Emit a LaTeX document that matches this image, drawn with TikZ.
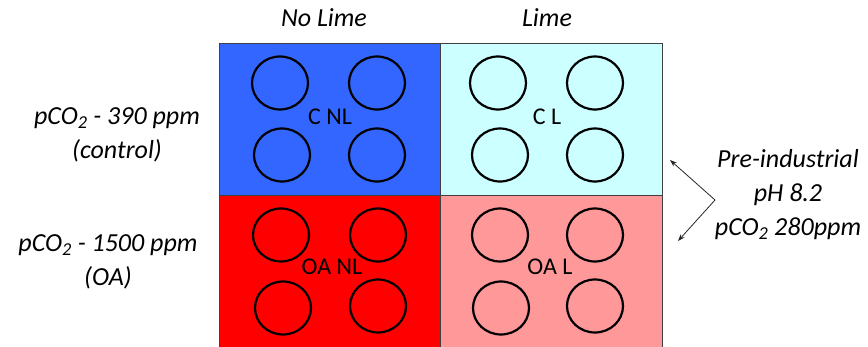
\documentclass[tikz,border=0pt]{standalone}
\usepackage{fontspec}
\setmainfont{Carlito}
\usetikzlibrary{arrows.meta}
\definecolor{qblue}{HTML}{3366FF}
\definecolor{qcyan}{HTML}{CCFFFF}
\definecolor{qred}{HTML}{FF0000}
\definecolor{qpink}{HTML}{FF9999}
\tikzset{
  quad/.style={draw=black!75, line width=0.9pt},
  well/.style={draw=black, line width=2.2pt},
  side/.style={font=\fontsize{26}{34}\selectfont\itshape, align=center, inner sep=0pt},
  lab/.style={font=\fontsize{24}{28}\selectfont, inner sep=0pt},
  ptr/.style={draw=black!85, line width=0.8pt, -{Stealth[length=7pt,width=5pt]}}
}
\begin{document}
\begin{tikzpicture}[x=1pt,y=-1pt]
\useasboundingbox (0,0) rectangle (868,347);
\begin{scope}
\clip (0,0) rectangle (868,347);
\path[quad,fill=qblue] (219,43) rectangle (440,195);
\path[quad,fill=qcyan] (440,43) rectangle (662,195);
\path[quad,fill=qred] (219,195) rectangle (440,352);
\path[quad,fill=qpink] (440,195) rectangle (662,352);
\end{scope}
% wells
\foreach \cx/\cy in {280/83,377/83,282/155,377/155,
                     498/83,595/83,500/155,595/155,
                     281/235,378/235,283/308,378/306,
                     500/235,595/235,501/308,595/306}
  \draw[well] (\cx,\cy) ellipse [x radius=28, y radius=26.5];
\node[lab] (cnl) at (330,117) {C NL};
\node[lab] (cl) at (547,117) {C L};
\node[lab] (oanl) at (332,267) {OA NL};
\node[lab] (oal) at (550,267) {OA L};
% headers
\node[side] (nolime) at (324,18) {No Lime};
\node[side] (lime) at (547,18) {Lime};
% left labels
\node[side] (ctrl) at (117,135) {pCO\textsubscript{2} - 390 ppm\\(control)};
\node[side] (oa) at (108,262) {pCO\textsubscript{2} - 1500 ppm\\(OA)};
% right label
\node[side] (pre) at (788,195) {Pre-industrial\\pH 8.2\\pCO\textsubscript{2} 280ppm};
\coordinate (v) at (715,200);
\coordinate (t1) at (670,160);
\coordinate (t2) at (678,241);
\draw[ptr] (v) -- (t1);
\draw[ptr] (v) -- (t2);
\end{tikzpicture}
\end{document}
